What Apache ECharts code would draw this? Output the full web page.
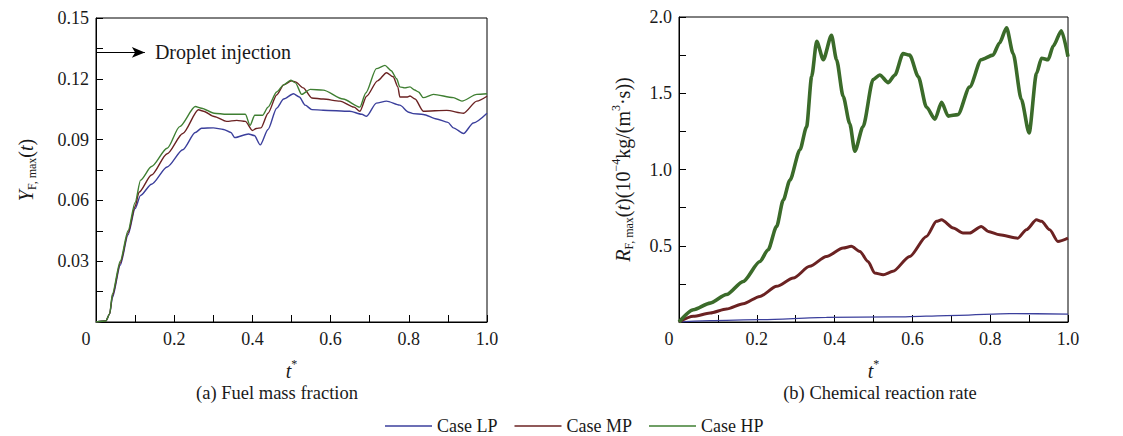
<!DOCTYPE html>
<html>
<head>
<meta charset="utf-8">
<script src="https://cdn.jsdelivr.net/npm/echarts@6/dist/echarts.min.js"></script>
<style>
html,body{margin:0;padding:0;background:#fff;}
#chart{width:1123px;height:436px;}
</style>
</head>
<body>
<div id="chart"></div>
<script>
// ---------- data (t*, value) ----------
const seriesNames = ['Case LP', 'Case MP', 'Case HP'];
const seriesColors = ['#3b3f9c', '#6b2222', '#3f7f32'];
const rateHPColor = '#3b6b2a';

// (a) Fuel mass fraction Y_F,max
const fuelLP = [[0,0],[0.025,0.0005],[0.035,0.004],[0.042,0.012],[0.062,0.028],[0.082,0.043],[0.1,0.056],[0.114,0.0625],[0.142,0.068],[0.182,0.0765],[0.222,0.085],[0.254,0.0935],[0.27,0.0956],[0.3,0.0958],[0.326,0.095],[0.345,0.0935],[0.355,0.091],[0.39,0.0928],[0.405,0.092],[0.42,0.0874],[0.44,0.095],[0.462,0.1055],[0.48,0.110],[0.505,0.1126],[0.52,0.111],[0.535,0.107],[0.552,0.1048],[0.581,0.1045],[0.649,0.104],[0.68,0.1025],[0.692,0.1015],[0.717,0.108],[0.743,0.109],[0.777,0.107],[0.8,0.1035],[0.811,0.1028],[0.837,0.1024],[0.871,0.1002],[0.9,0.0985],[0.914,0.0958],[0.94,0.093],[0.965,0.0982],[1.0,0.103]];
const fuelMP = [[0,0],[0.025,0.0005],[0.035,0.004],[0.042,0.013],[0.062,0.029],[0.082,0.044],[0.1,0.057],[0.11,0.064],[0.142,0.0725],[0.182,0.083],[0.222,0.093],[0.262,0.1047],[0.275,0.104],[0.302,0.1014],[0.334,0.099],[0.36,0.0995],[0.382,0.099],[0.4,0.0945],[0.41,0.0955],[0.422,0.0958],[0.44,0.103],[0.462,0.112],[0.48,0.117],[0.5,0.119],[0.51,0.1185],[0.53,0.1155],[0.552,0.1105],[0.581,0.110],[0.624,0.109],[0.66,0.106],[0.675,0.104],[0.692,0.1114],[0.72,0.119],[0.743,0.123],[0.76,0.121],[0.772,0.116],[0.777,0.111],[0.795,0.111],[0.803,0.1115],[0.816,0.110],[0.837,0.104],[0.897,0.1044],[0.94,0.103],[0.974,0.109],[1.0,0.1114]];
const fuelHP = [[0,0],[0.025,0.0005],[0.035,0.004],[0.042,0.014],[0.062,0.030],[0.082,0.045],[0.1,0.059],[0.114,0.07],[0.142,0.0767],[0.182,0.0857],[0.214,0.0964],[0.254,0.1063],[0.27,0.1055],[0.302,0.103],[0.334,0.1025],[0.382,0.1025],[0.394,0.097],[0.406,0.102],[0.426,0.102],[0.44,0.106],[0.462,0.1135],[0.48,0.117],[0.498,0.1193],[0.51,0.118],[0.526,0.1123],[0.548,0.1148],[0.581,0.1144],[0.632,0.110],[0.675,0.106],[0.69,0.113],[0.717,0.125],[0.739,0.1266],[0.755,0.124],[0.769,0.120],[0.777,0.116],[0.79,0.1155],[0.803,0.116],[0.815,0.1145],[0.825,0.1135],[0.837,0.1107],[0.863,0.1123],[0.914,0.1107],[0.936,0.109],[0.974,0.1123],[1.0,0.1126]];

// (b) Chemical reaction rate R_F,max (1e-4 kg/(m3 s))
const rateLP = [[0,0],[0.08,0.009],[0.208,0.015],[0.379,0.03],[0.55,0.033],[0.72,0.044],[0.85,0.055],[1.0,0.052]];
const rateMP = [[0,0],[0.037,0.037],[0.08,0.059],[0.122,0.085],[0.165,0.12],[0.208,0.168],[0.251,0.234],[0.294,0.288],[0.336,0.365],[0.379,0.43],[0.422,0.485],[0.443,0.496],[0.465,0.463],[0.486,0.397],[0.503,0.321],[0.525,0.31],[0.55,0.332],[0.593,0.43],[0.636,0.561],[0.662,0.66],[0.675,0.67],[0.705,0.616],[0.73,0.583],[0.747,0.583],[0.777,0.627],[0.795,0.594],[0.824,0.572],[0.871,0.55],[0.893,0.605],[0.919,0.67],[0.932,0.66],[0.953,0.605],[0.974,0.528],[1.0,0.55]];
const rateHP = [[0,0],[0.037,0.08],[0.08,0.124],[0.122,0.18],[0.165,0.266],[0.208,0.397],[0.229,0.474],[0.251,0.627],[0.268,0.80],[0.285,0.93],[0.311,1.13],[0.328,1.28],[0.341,1.61],[0.354,1.84],[0.371,1.72],[0.392,1.88],[0.405,1.72],[0.422,1.48],[0.439,1.30],[0.452,1.12],[0.473,1.28],[0.499,1.59],[0.516,1.62],[0.538,1.57],[0.555,1.62],[0.576,1.76],[0.593,1.75],[0.615,1.61],[0.636,1.41],[0.658,1.33],[0.675,1.44],[0.692,1.35],[0.717,1.36],[0.747,1.54],[0.777,1.72],[0.807,1.75],[0.824,1.83],[0.842,1.93],[0.859,1.76],[0.88,1.46],[0.9,1.24],[0.919,1.63],[0.932,1.73],[0.949,1.72],[0.962,1.81],[0.983,1.91],[1.0,1.74]];

const injection = {t: 0.125, y: 0.133, text: 'Droplet injection'};
const captions = ['(a) Fuel mass fraction', '(b) Chemical reaction rate'];

// ---------- styling ----------
const FF = 'Liberation Serif, Times New Roman, serif';
const TXT = '#1a1a1a';
const rich = {
  n: {fontFamily: FF, fontSize: 20, color: TXT, lineHeight: 25, verticalAlign: 'middle'},
  i: {fontFamily: FF, fontSize: 20, color: TXT, fontStyle: 'italic', lineHeight: 25, verticalAlign: 'middle'},
  s: {fontFamily: FF, fontSize: 12, color: TXT, lineHeight: 12, verticalAlign: 'bottom'},
  sup: {fontFamily: FF, fontSize: 12, color: TXT, lineHeight: 12, verticalAlign: 'top'},
  z: {fontFamily: FF, fontSize: 18, color: TXT, padding: [0, 20, 0, 0]}
};

function xAxisCfg(gi) {
  return {
    gridIndex: gi, type: 'value', min: 0, max: 1, interval: 0.2,
    axisLine: {show: true, lineStyle: {color: '#000', width: 1}},
    axisTick: {show: true, inside: true, length: 7, lineStyle: {color: '#000'}},
    minorTick: {show: true, splitNumber: 2, length: 7, lineStyle: {color: '#000'}},
    splitLine: {show: false}, minorSplitLine: {show: false},
    axisLabel: {fontFamily: FF, fontSize: 18, color: TXT, margin: 8,
      formatter: v => v === 0 ? '{z|0}' : v.toFixed(1), rich: rich},
    name: '{i|t}{sup|*}', nameLocation: 'middle', nameGap: 36,
    nameTextStyle: {fontFamily: FF, rich: rich}
  };
}
function yAxisCfg(gi, max, interval, dec, name, gap) {
  return {
    gridIndex: gi, type: 'value', min: 0, max: max, interval: interval,
    axisLine: {show: true, lineStyle: {color: '#000', width: 1}},
    axisTick: {show: true, inside: true, length: 7, lineStyle: {color: '#000'}},
    minorTick: {show: true, splitNumber: 2, length: 7, lineStyle: {color: '#000'}},
    splitLine: {show: false}, minorSplitLine: {show: false},
    axisLabel: {fontFamily: FF, fontSize: 18, color: TXT, margin: 7,
      formatter: v => v === 0 ? '' : v.toFixed(dec)},
    name: name, nameLocation: 'middle', nameRotate: 90, nameGap: gap,
    nameTextStyle: {fontFamily: FF, rich: rich}
  };
}

function lineSeries(idx, data, xi, width, color) {
  const c = color || seriesColors[idx];
  return {
    name: seriesNames[idx], type: 'line', xAxisIndex: xi, yAxisIndex: xi,
    data: data, showSymbol: false, smooth: 0.25, smoothMonotone: 'x',
    lineStyle: {color: c, width: width},
    itemStyle: {color: c},
    z: 3 + idx
  };
}

const s0 = lineSeries(0, fuelLP, 0, 1.4);
s0.markLine = {
  silent: true, symbol: ['none', 'arrow'], symbolSize: [8, 13],
  lineStyle: {color: '#000', width: 1.2, type: 'solid'},
  label: {show: true, position: 'end', distance: 10, formatter: injection.text,
    fontFamily: FF, fontSize: 20, color: TXT},
  data: [[{coord: [0, injection.y]}, {coord: [injection.t, injection.y]}]]
};

const option = {
  animation: false,
  backgroundColor: '#fff',
  textStyle: {fontFamily: FF},
  grid: [
    {left: 96, top: 18, width: 391, height: 304, show: true, borderColor: '#000', borderWidth: 1, backgroundColor: 'transparent'},
    {left: 679, top: 17, width: 389, height: 305, show: true, borderColor: '#000', borderWidth: 1, backgroundColor: 'transparent'}
  ],
  xAxis: [xAxisCfg(0), xAxisCfg(1)],
  yAxis: [
    yAxisCfg(0, 0.15, 0.03, 2, '{i|Y}{s|F, max}{n|(}{i|t}{n|)}', 58),
    yAxisCfg(1, 2.0, 0.5, 1, '{i|R}{s|F, max}{n|(}{i|t}{n|)(10}{sup|−4}{n|kg/(m}{sup|3}{n|·s))}', 44)
  ],
  legend: {
    data: seriesNames, left: 385, top: 417, icon: 'rect', itemWidth: 47, itemHeight: 1.5,
    itemGap: 17, padding: 0, textStyle: {fontFamily: FF, fontSize: 18, color: TXT, lineHeight: 17}
  },
  graphic: [
    {type: 'text', x: 277, y: 393, style: {text: captions[0], fontFamily: FF, fontSize: 18.5, fill: TXT, textAlign: 'center', textVerticalAlign: 'middle'}},
    {type: 'text', x: 880, y: 393, style: {text: captions[1], fontFamily: FF, fontSize: 18.5, fill: TXT, textAlign: 'center', textVerticalAlign: 'middle'}}
  ],
  series: [
    s0,
    lineSeries(1, fuelMP, 0, 1.4),
    lineSeries(2, fuelHP, 0, 1.4),
    lineSeries(0, rateLP, 1, 1.3),
    lineSeries(1, rateMP, 1, 3),
    lineSeries(2, rateHP, 1, 3.6, rateHPColor)
  ]
};

const chart = echarts.init(document.getElementById('chart'), null, {renderer: 'svg'});
chart.setOption(option);
</script>
</body>
</html>
